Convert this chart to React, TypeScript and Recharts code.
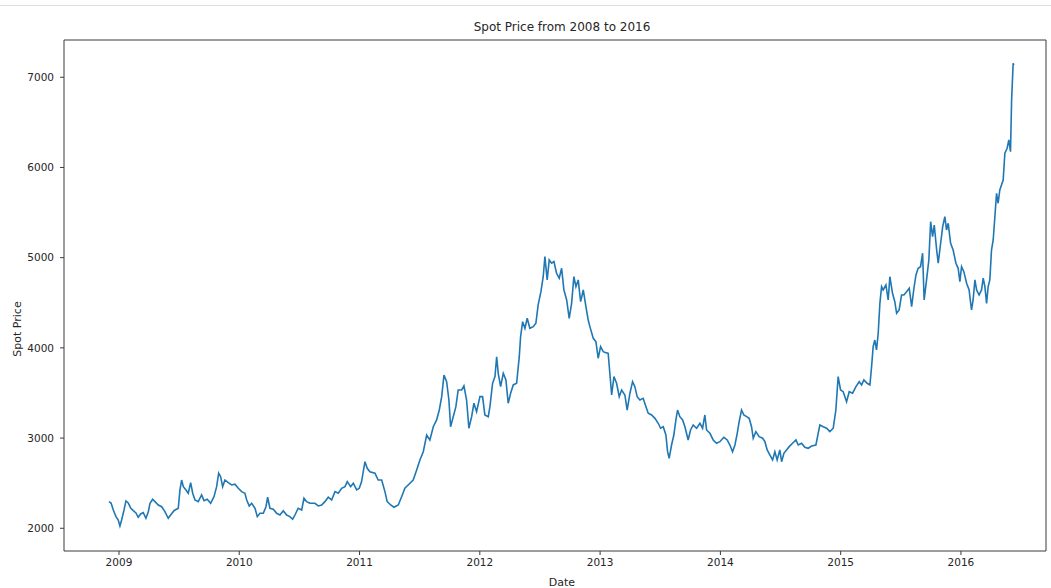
import React from 'react';
import { LineChart, Line, XAxis, YAxis, Label } from 'recharts';

// Decimal-year dates and spot prices
const dates2009 = [2008.917, 2008.934, 2008.953, 2008.975, 2008.994, 2009.008, 2009.022, 2009.042, 2009.058, 2009.077, 2009.097, 2009.119, 2009.141, 2009.160, 2009.180, 2009.202, 2009.224, 2009.244, 2009.258, 2009.280, 2009.299, 2009.327, 2009.355, 2009.382, 2009.410, 2009.430, 2009.457, 2009.493, 2009.507, 2009.521, 2009.535, 2009.557, 2009.576, 2009.596, 2009.613, 2009.632, 2009.659, 2009.687, 2009.707, 2009.734, 2009.762, 2009.790, 2009.812, 2009.829, 2009.845, 2009.862, 2009.881, 2009.909, 2009.937, 2009.964, 2009.992, 2010.020, 2010.047];
const prices2009 = [2295, 2280, 2203, 2129, 2092, 2025, 2092, 2203, 2303, 2280, 2225, 2195, 2170, 2122, 2159, 2173, 2111, 2184, 2277, 2321, 2295, 2258, 2239, 2184, 2111, 2147, 2195, 2222, 2425, 2535, 2461, 2425, 2388, 2506, 2388, 2314, 2295, 2369, 2306, 2321, 2277, 2350, 2461, 2610, 2572, 2461, 2535, 2506, 2480, 2488, 2443, 2406, 2388];

const dates2010 = [2010.062, 2010.083, 2010.103, 2010.131, 2010.150, 2010.172, 2010.200, 2010.222, 2010.236, 2010.255, 2010.283, 2010.311, 2010.338, 2010.366, 2010.394, 2010.421, 2010.444, 2010.463, 2010.490, 2010.519, 2010.538, 2010.560, 2010.587, 2010.629, 2010.657, 2010.685, 2010.712, 2010.740, 2010.768, 2010.796, 2010.823, 2010.851, 2010.879, 2010.898, 2010.926, 2010.948, 2010.976, 2010.998, 2011.017, 2011.045, 2011.064, 2011.086];
const prices2010 = [2314, 2247, 2277, 2222, 2129, 2166, 2166, 2239, 2344, 2222, 2211, 2166, 2147, 2195, 2147, 2129, 2100, 2147, 2222, 2203, 2333, 2295, 2277, 2277, 2247, 2258, 2295, 2344, 2314, 2406, 2388, 2443, 2461, 2517, 2461, 2499, 2425, 2443, 2517, 2738, 2665, 2627];

const dates2011 = [2011.128, 2011.155, 2011.184, 2011.211, 2011.230, 2011.259, 2011.286, 2011.322, 2011.350, 2011.377, 2011.419, 2011.446, 2011.475, 2011.502, 2011.530, 2011.558, 2011.585, 2011.613, 2011.641, 2011.663, 2011.683, 2011.702, 2011.724, 2011.743, 2011.757, 2011.779, 2011.801, 2011.820, 2011.849, 2011.868, 2011.890, 2011.909, 2011.932, 2011.951, 2011.973, 2012.001, 2012.023, 2012.042, 2012.070, 2012.084];
const prices2011 = [2610, 2535, 2535, 2406, 2295, 2258, 2233, 2258, 2350, 2443, 2499, 2535, 2646, 2757, 2849, 3034, 2979, 3126, 3201, 3311, 3459, 3699, 3625, 3422, 3126, 3237, 3348, 3533, 3533, 3578, 3422, 3109, 3237, 3386, 3293, 3459, 3459, 3256, 3237, 3348];

const dates2012 = [2012.106, 2012.126, 2012.140, 2012.153, 2012.173, 2012.195, 2012.217, 2012.236, 2012.256, 2012.278, 2012.306, 2012.328, 2012.339, 2012.356, 2012.375, 2012.394, 2012.416, 2012.444, 2012.466, 2012.485, 2012.508, 2012.527, 2012.541, 2012.560, 2012.577, 2012.597, 2012.616, 2012.638, 2012.660, 2012.680, 2012.699, 2012.722, 2012.743, 2012.763, 2012.782, 2012.799, 2012.818, 2012.838, 2012.860, 2012.882, 2012.901];
const prices2012 = [3607, 3681, 3902, 3718, 3570, 3718, 3644, 3386, 3497, 3589, 3607, 3902, 4124, 4290, 4217, 4328, 4217, 4235, 4273, 4476, 4623, 4789, 5011, 4753, 4974, 4938, 4956, 4827, 4772, 4882, 4642, 4531, 4328, 4494, 4789, 4678, 4753, 4512, 4642, 4457, 4309];

const dates2013 = [2012.915, 2012.943, 2012.965, 2012.984, 2013.004, 2013.026, 2013.048, 2013.067, 2013.081, 2013.096, 2013.115, 2013.137, 2013.159, 2013.179, 2013.206, 2013.225, 2013.248, 2013.270, 2013.289, 2013.308, 2013.331, 2013.358, 2013.381, 2013.400, 2013.428, 2013.456, 2013.483, 2013.503, 2013.525, 2013.547, 2013.561, 2013.574, 2013.594, 2013.613, 2013.630, 2013.644, 2013.663, 2013.686, 2013.705, 2013.732, 2013.752, 2013.774, 2013.802, 2013.830, 2013.852, 2013.871, 2013.885, 2013.913];
const prices2013 = [4235, 4106, 4069, 3885, 4013, 3958, 3947, 3940, 3718, 3478, 3681, 3607, 3459, 3533, 3478, 3311, 3497, 3625, 3570, 3459, 3422, 3441, 3348, 3275, 3256, 3219, 3164, 3109, 3126, 3034, 2849, 2776, 2923, 3034, 3201, 3311, 3237, 3201, 3126, 2979, 3090, 3145, 3109, 3164, 3109, 3256, 3090, 3053];

const dates2014 = [2013.940, 2013.968, 2013.996, 2014.029, 2014.057, 2014.079, 2014.101, 2014.121, 2014.140, 2014.156, 2014.176, 2014.195, 2014.218, 2014.239, 2014.259, 2014.273, 2014.295, 2014.322, 2014.351, 2014.370, 2014.389, 2014.411, 2014.434, 2014.453, 2014.472, 2014.494, 2014.509, 2014.528, 2014.550, 2014.572, 2014.600, 2014.628, 2014.647, 2014.675, 2014.702, 2014.730, 2014.758, 2014.794, 2014.813, 2014.827, 2014.855, 2014.883, 2014.910, 2014.938, 2014.960, 2014.979, 2014.999, 2015.021, 2015.049, 2015.071];
const prices2014 = [2979, 2942, 2960, 3009, 2979, 2923, 2849, 2923, 3053, 3182, 3311, 3256, 3237, 3219, 3126, 2998, 3071, 3015, 2998, 2960, 2868, 2813, 2757, 2849, 2757, 2868, 2738, 2831, 2868, 2905, 2942, 2979, 2923, 2942, 2898, 2887, 2912, 2923, 3053, 3145, 3126, 3109, 3071, 3109, 3311, 3681, 3533, 3514, 3403, 3514];

const dates2015 = [2015.099, 2015.127, 2015.154, 2015.174, 2015.193, 2015.220, 2015.243, 2015.257, 2015.270, 2015.284, 2015.298, 2015.312, 2015.326, 2015.340, 2015.353, 2015.376, 2015.395, 2015.409, 2015.431, 2015.450, 2015.465, 2015.486, 2015.506, 2015.525, 2015.548, 2015.570, 2015.590, 2015.609, 2015.626, 2015.644, 2015.664, 2015.681, 2015.694, 2015.714, 2015.733, 2015.748, 2015.764, 2015.778, 2015.798, 2015.811, 2015.831, 2015.848, 2015.866, 2015.880, 2015.894, 2015.914, 2015.935, 2015.958, 2015.977, 2015.991, 2016.005, 2016.024, 2016.047, 2016.068];
const prices2015 = [3497, 3570, 3625, 3589, 3644, 3607, 3589, 3791, 4013, 4087, 3977, 4162, 4494, 4678, 4642, 4697, 4531, 4789, 4605, 4512, 4383, 4420, 4586, 4586, 4623, 4661, 4457, 4661, 4808, 4882, 4900, 5049, 4531, 4753, 4974, 5399, 5233, 5362, 5085, 4938, 5160, 5344, 5454, 5307, 5381, 5160, 5085, 4938, 4882, 4734, 4900, 4845, 4716, 4642];

const dates2016 = [2016.074, 2016.088, 2016.101, 2016.116, 2016.130, 2016.151, 2016.171, 2016.185, 2016.199, 2016.213, 2016.226, 2016.240, 2016.254, 2016.268, 2016.282, 2016.296, 2016.309, 2016.323, 2016.337, 2016.351, 2016.365, 2016.384, 2016.398, 2016.412, 2016.421, 2016.434, 2016.440];
const prices2016 = [4568, 4420, 4531, 4753, 4642, 4586, 4642, 4772, 4678, 4494, 4678, 4753, 5085, 5196, 5454, 5714, 5603, 5750, 5806, 5861, 6157, 6213, 6305, 6175, 6748, 7155, 7136];

const xTicks = [2009, 2010, 2011, 2012, 2013, 2014, 2015, 2016];
const yTicks = [2000, 3000, 4000, 5000, 6000, 7000];

const title = 'Spot Price from 2008 to 2016';
const xLabel = 'Date';
const yLabel = 'Spot Price';

const allDates = [...dates2009, ...dates2010, ...dates2011, ...dates2012, ...dates2013, ...dates2014, ...dates2015, ...dates2016];
const allPrices = [...prices2009, ...prices2010, ...prices2011, ...prices2012, ...prices2013, ...prices2014, ...prices2015, ...prices2016];
const data = allDates.slice(0, Math.min(allDates.length, allPrices.length)).map((d, i) => ({ date: d, price: allPrices[i] }));

const FONT = '"DejaVu Sans", sans-serif';
const TEXT = '#262626';
const AXIS = '#3a3a3a';
const X_DOMAIN: [number, number] = [2008.543, 2016.707];
const Y_DOMAIN: [number, number] = [1748, 7413];

export default function App() {
  return (
    <div style={{ position: 'absolute', left: 0, top: 0, width: 1051, height: 588, background: '#fff', fontFamily: FONT }}>
      <div style={{ position: 'absolute', left: 0, top: 5, width: 1051, height: 1, background: '#dddddd' }} />
      <div style={{ position: 'absolute', left: 262, top: 20, width: 600, textAlign: 'center', fontSize: 12, lineHeight: '14px', color: TEXT }}>{title}</div>
      <LineChart width={1051} height={588} data={data} margin={{ top: 39, right: 4, left: 0, bottom: 0 }}>
        <XAxis
          xAxisId="b"
          dataKey="date"
          type="number"
          domain={X_DOMAIN}
          allowDataOverflow
          ticks={xTicks}
          tickFormatter={(v: number) => String(Math.round(v))}
          height={37}
          stroke={AXIS}
          tickSize={4}
          tickMargin={4}
          tick={{ fill: TEXT, fontSize: 10.5, fontFamily: FONT }}
        >
          <Label
            content={() => (
              <text x={562} y={586} textAnchor="middle" fill={TEXT} fontSize={11} fontFamily={FONT}>{xLabel}</text>
            )}
          />
        </XAxis>
        <XAxis xAxisId="t" orientation="top" type="number" domain={X_DOMAIN} allowDataOverflow ticks={xTicks} height={1} tick={false} tickLine={false} stroke={AXIS} />
        <YAxis
          yAxisId="l"
          type="number"
          domain={Y_DOMAIN}
          allowDataOverflow
          ticks={yTicks}
          width={64}
          stroke={AXIS}
          tickSize={4}
          tickMargin={6}
          tick={{ fill: TEXT, fontSize: 10.5, fontFamily: FONT }}
        >
          <Label
            content={() => (
              <text x={21} y={329} transform="rotate(-90 21 329)" textAnchor="middle" fill={TEXT} fontSize={11} fontFamily={FONT}>{yLabel}</text>
            )}
          />
        </YAxis>
        <YAxis yAxisId="r" orientation="right" type="number" domain={Y_DOMAIN} allowDataOverflow ticks={yTicks} width={1} tick={false} tickLine={false} stroke={AXIS} />
        <Line
          xAxisId="b"
          yAxisId="l"
          type="linear"
          dataKey="price"
          stroke="#1f77b4"
          strokeWidth={1.6}
          dot={false}
          isAnimationActive={false}
        />
      </LineChart>
    </div>
  );
}
